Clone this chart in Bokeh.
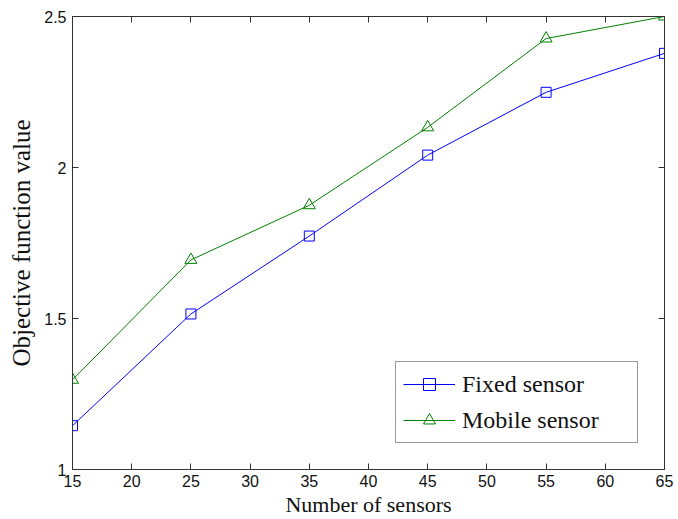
from bokeh.plotting import figure
from bokeh.models import LinearAxis, Range1d, FixedTicker, NumeralTickFormatter, Legend, LegendItem, CustomJSTickFormatter
from bokeh.embed import file_html
from bokeh.resources import INLINE

sensors = [15, 25, 35, 45, 55, 65]
fixed_sensor = [1.145, 1.515, 1.773, 2.041, 2.249, 2.378]
mobile_sensor = [1.297, 1.694, 1.875, 2.133, 2.427, 2.500]
x_ticks = [15, 20, 25, 30, 35, 40, 45, 50, 55, 60, 65]
y_ticks = [1, 1.5, 2, 2.5]

p = figure(width=678, height=519, output_backend="svg", toolbar_location=None,
           x_range=Range1d(15, 65), y_range=Range1d(1, 2.5),
           min_border_left=72, min_border_right=14, min_border_top=16, min_border_bottom=49)
p.grid.visible = False
p.outline_line_color = "#333333"
p.outline_line_width = 1

tick_font = "Liberation Sans"
for ax in (p.xaxis[0], p.yaxis[0]):
    ax.major_tick_in = 6
    ax.major_tick_out = 0
    ax.minor_tick_line_color = None
    ax.axis_line_color = "#333333"
    ax.major_tick_line_color = "#333333"
    ax.major_label_text_font = tick_font
    ax.major_label_text_font_size = "16px"
    ax.major_label_text_color = "#111111"
    ax.axis_label_text_font = "Liberation Serif"
    ax.axis_label_text_font_style = "normal"
    ax.axis_label_text_color = "#111111"

p.xaxis.ticker = FixedTicker(ticks=x_ticks)
p.yaxis.ticker = FixedTicker(ticks=y_ticks)
p.yaxis.formatter = NumeralTickFormatter(format="0.[0]")
p.xaxis.axis_label = "Number of sensors"
p.xaxis.axis_label_text_font_size = "22px"
p.xaxis.axis_label_standoff = 2
p.xaxis.major_label_standoff = 5
p.yaxis.axis_label = "Objective function value"
p.yaxis.axis_label_text_font_size = "25px"
p.yaxis.axis_label_standoff = 6
p.yaxis.major_label_standoff = 6

blank = CustomJSTickFormatter(code="return ''")
top = LinearAxis(ticker=FixedTicker(ticks=x_ticks), formatter=blank,
                 major_tick_in=6, major_tick_out=0, minor_tick_line_color=None,
                 axis_line_color="#333333", major_tick_line_color="#333333")
right = LinearAxis(ticker=FixedTicker(ticks=y_ticks), formatter=blank,
                   major_tick_in=6, major_tick_out=0, minor_tick_line_color=None,
                   axis_line_color="#333333", major_tick_line_color="#333333")
p.add_layout(top, "above")
p.add_layout(right, "right")

blue = "#0000ff"
green = "#008000"
l1 = p.line(sensors, fixed_sensor, line_color=blue, line_width=1)
m1 = p.scatter(sensors, fixed_sensor, marker="square", size=10, fill_color=None, line_color=blue, line_width=1)
l2 = p.line(sensors, mobile_sensor, line_color=green, line_width=1)
m2 = p.scatter(sensors, mobile_sensor, marker="triangle", size=12, fill_color=None, line_color=green, line_width=1)

legend = Legend(items=[LegendItem(label="Fixed sensor", renderers=[l1, m1]),
                       LegendItem(label="Mobile sensor", renderers=[l2, m2])],
                location="bottom_right")
legend.margin = 26
legend.padding = 7
legend.spacing = 6
legend.glyph_width = 52
legend.glyph_height = 30
legend.label_height = 30
legend.label_width = 168
legend.label_standoff = 7
legend.label_text_font = "Liberation Serif"
legend.label_text_font_size = "24px"
legend.label_text_color = "#111111"
legend.border_line_color = "#333333"
legend.border_line_width = 1
legend.background_fill_alpha = 1
p.add_layout(legend, "center")

open("out.html", "w").write(file_html(p, INLINE))
